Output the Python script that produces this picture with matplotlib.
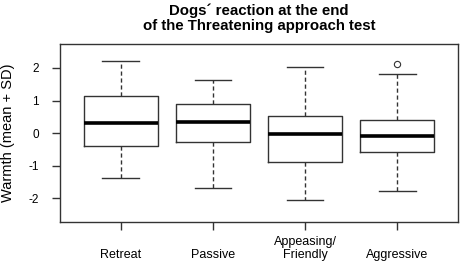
import numpy as np
import matplotlib.pyplot as plt

plt.rcParams['font.family'] = ['Liberation Sans', 'DejaVu Sans']

categories = ["Retreat", "Passive", "Appeasing/\nFriendly", "Aggressive"]
whislo = [-1.36, -1.69, -2.06, -1.76]
q1 = [-0.38, -0.28, -0.89, -0.58]
med = [0.32, 0.35, -0.03, -0.10]
q3 = [1.13, 0.89, 0.54, 0.40]
whishi = [2.20, 1.63, 2.04, 1.81]
outliers = [[], [], [], [2.11]]

stats = []
for i in range(len(categories)):
    stats.append(dict(label=categories[i], whislo=whislo[i], q1=q1[i], med=med[i],
                      q3=q3[i], whishi=whishi[i], fliers=outliers[i]))

fig = plt.figure(figsize=(4.61, 2.61), dpi=100)
ax = fig.add_axes([60/461, 1 - 222/261, 398/461, 178/261])

line_c = '#333333'
ax.bxp(stats, positions=np.arange(1, 5), widths=0.8, showfliers=True,
       boxprops=dict(color=line_c, linewidth=1.0),
       whiskerprops=dict(color=line_c, linewidth=1.0, linestyle=(0, (3, 2))),
       capprops=dict(color=line_c, linewidth=1.0),
       capwidths=0.4,
       medianprops=dict(color='black', linewidth=2.6, solid_capstyle='butt'),
       flierprops=dict(marker='o', markersize=4.5, markerfacecolor='none',
                       markeredgecolor=line_c, markeredgewidth=0.8))

ax.set_xlim(0.34, 4.66)
ax.set_ylim(-2.72, 2.73)
ax.set_yticks([-2, -1, 0, 1, 2])
ax.set_yticklabels(['-2', '-1', '0', '1', '2'], fontsize=8.5)
ax.set_xticks(np.arange(1, 5))
ax.set_xticklabels([''] * 4)
for i, lab in enumerate(categories):
    ax.text(i + 1, -0.205, lab, transform=ax.get_xaxis_transform(),
            ha='center', va='baseline', fontsize=9, linespacing=1.15)

ax.tick_params(axis='both', direction='out', length=6, width=1, color=line_c)
ax.tick_params(axis='y', pad=9)
for s in ax.spines.values():
    s.set_color(line_c)
    s.set_linewidth(1.0)

ax.set_ylabel('Warmth (mean + SD)', fontsize=10.5, labelpad=10)
fig.text(259/461, 1 - 3/261, "Dogs\u00b4 reaction at the end\nof the Threatening approach test",
         ha='center', va='top', fontsize=10.8, fontweight='bold', linespacing=1.12)

fig.savefig('out.png', dpi=100)
